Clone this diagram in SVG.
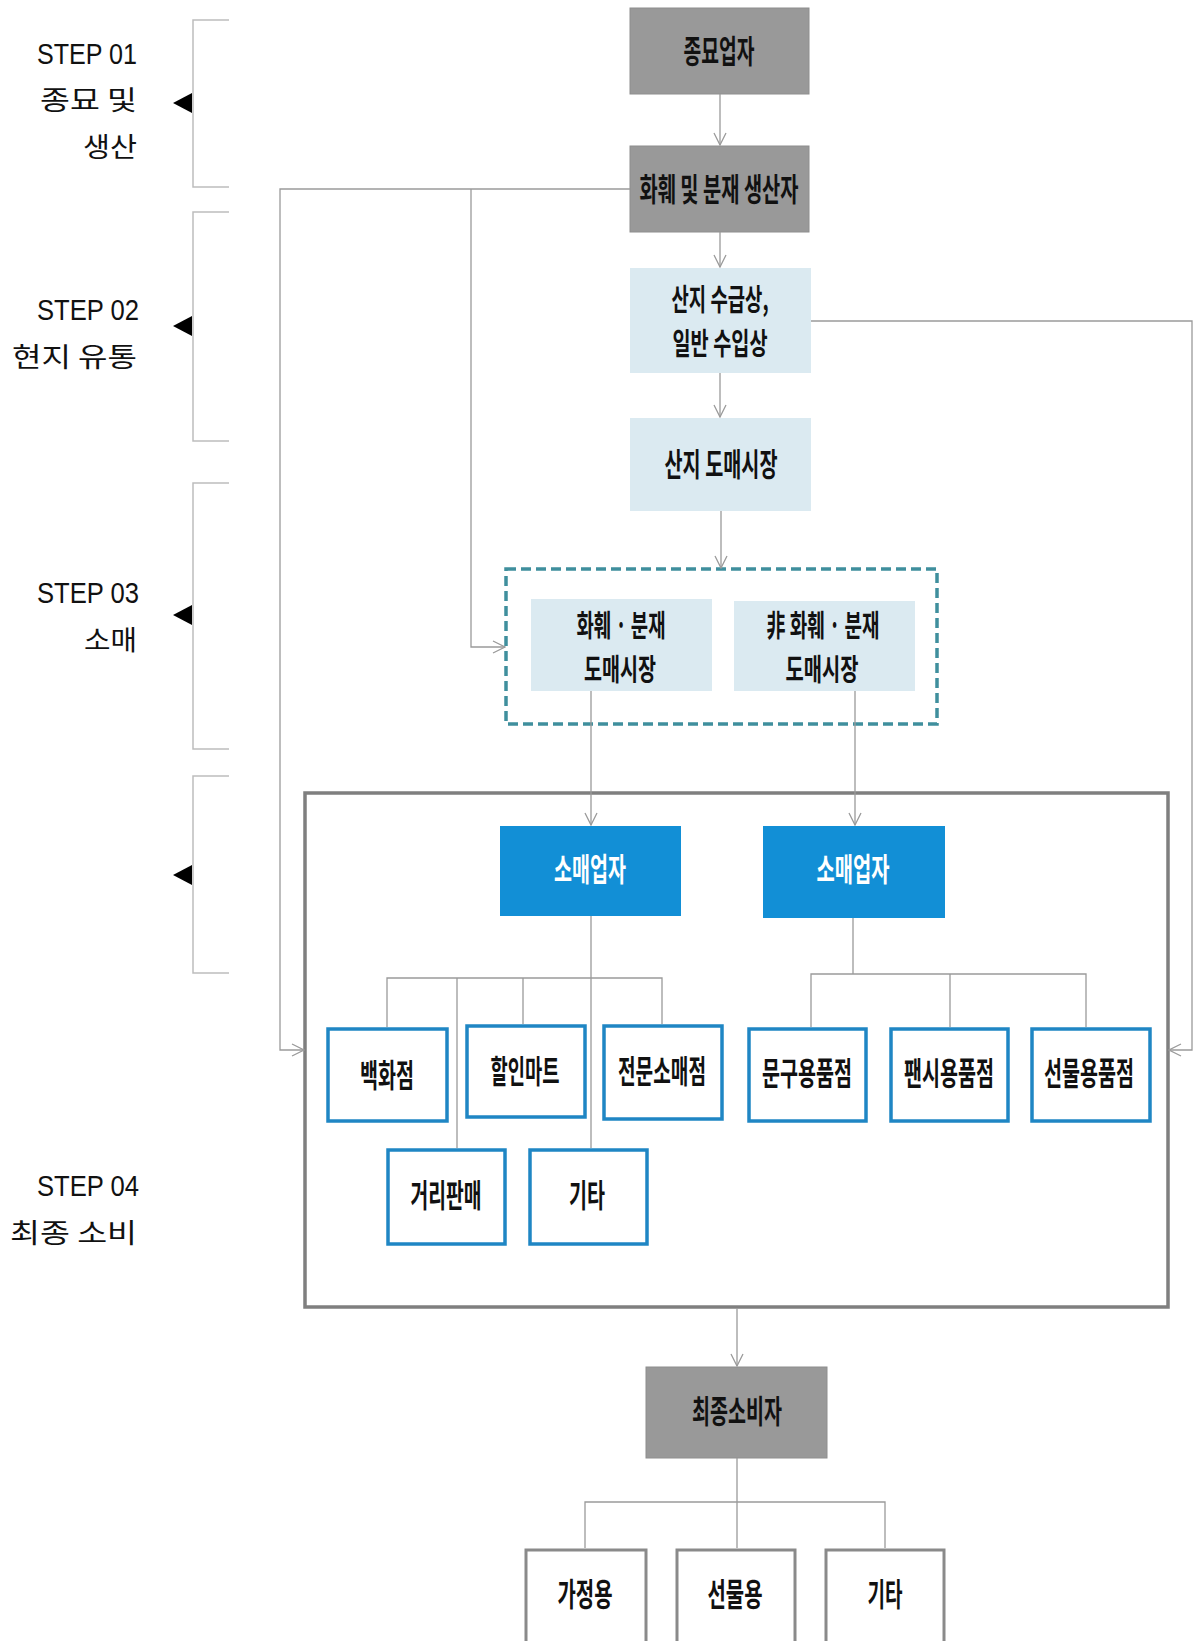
<svg xmlns="http://www.w3.org/2000/svg" width="1196" height="1641" viewBox="0 0 1196 1641">
<style>
.step{font-family:"Liberation Sans",sans-serif;font-size:29px;fill:#111;text-anchor:end}
.kl{font-family:"Noto Sans CJK KR",sans-serif;font-size:27px;fill:#111;text-anchor:end}
.nt{font-family:"Noto Sans CJK KR",sans-serif;font-size:32px;font-weight:700;fill:#111;text-anchor:middle}
.n2{font-size:30px}
.wt{fill:#fff}
.brk{fill:none;stroke:#bdbdbd;stroke-width:1.5}
.dark{fill:#999;stroke:#8e8e8e;stroke-width:1}
.light{fill:#dbeaf1}
.blue{fill:#128fd6}
.bb{fill:#fff;stroke:#1f86c4;stroke-width:3.5}
.gb{fill:#fff;stroke:#8a8a8a;stroke-width:3}
.con{fill:none;stroke:#9a9a9a;stroke-width:1.3}
</style>
<defs>
<marker id="ar" markerUnits="userSpaceOnUse" markerWidth="14" markerHeight="14" viewBox="0 0 14 14" refX="13" refY="7" orient="auto">
<path d="M1,1 L13,7 L1,13" fill="none" stroke="#9a9a9a" stroke-width="1.3"/>
</marker>
</defs>

<g id="step-labels">
<text class="step" x="137" y="64" textLength="100" lengthAdjust="spacingAndGlyphs">STEP 01</text>
<text class="kl" x="137" y="110" textLength="97" lengthAdjust="spacingAndGlyphs">종묘 및</text>
<text class="kl" x="137" y="157" textLength="54" lengthAdjust="spacingAndGlyphs">생산</text>
<text class="step" x="139" y="320" textLength="102" lengthAdjust="spacingAndGlyphs">STEP 02</text>
<text class="kl" x="137" y="367" textLength="125" lengthAdjust="spacingAndGlyphs">현지 유통</text>
<text class="step" x="139" y="603" textLength="102" lengthAdjust="spacingAndGlyphs">STEP 03</text>
<text class="kl" x="137" y="650" textLength="53" lengthAdjust="spacingAndGlyphs">소매</text>
<text class="step" x="139" y="1196" textLength="102" lengthAdjust="spacingAndGlyphs">STEP 04</text>
<text class="kl" x="137" y="1243" textLength="127" lengthAdjust="spacingAndGlyphs">최종 소비</text>
</g>

<g id="brackets">
<path class="brk" d="M229,20 H193 V187 H229"/>
<path d="M173,103 L192,93 L192,113 Z" fill="#000"/>
<path class="brk" d="M229,212 H193 V441 H229"/>
<path d="M173,326 L192,316 L192,336 Z" fill="#000"/>
<path class="brk" d="M229,483 H193 V749 H229"/>
<path d="M173,615 L192,605 L192,625 Z" fill="#000"/>
<path class="brk" d="M229,776 H193 V973 H229"/>
<path d="M173,875 L192,865 L192,885 Z" fill="#000"/>
</g>

<g id="n-jongmyo">
<rect class="dark" x="630" y="8" width="179" height="86"/>
<text class="nt" x="719" y="63" textLength="71" lengthAdjust="spacingAndGlyphs">종묘업자</text>
</g>
<g id="n-producer">
<rect class="dark" x="630" y="146" width="179" height="86"/>
<text class="nt" x="719" y="201" textLength="159" lengthAdjust="spacingAndGlyphs">화훼 및 분재 생산자</text>
</g>
<g id="n-supplier">
<rect class="light" x="630" y="268" width="181" height="105"/>
<text class="nt n2" x="720" y="310" textLength="97" lengthAdjust="spacingAndGlyphs">산지 수급상,</text>
<text class="nt n2" x="720" y="354" textLength="95" lengthAdjust="spacingAndGlyphs">일반 수입상</text>
</g>
<g id="n-local-wholesale">
<rect class="light" x="630" y="418" width="181" height="93"/>
<text class="nt" x="721" y="476" textLength="113" lengthAdjust="spacingAndGlyphs">산지 도매시장</text>
</g>

<g id="n-wholesale-group">
<rect x="506" y="569" width="431" height="155" fill="none" stroke="#3f8f9d" stroke-width="3.5" stroke-dasharray="10 5"/>
</g>
<g id="n-flower-wholesale">
<rect class="light" x="531" y="599" width="181" height="92"/>
<text class="nt n2" x="621" y="636" textLength="89" lengthAdjust="spacingAndGlyphs">화훼 · 분재</text>
<text class="nt n2" x="620" y="680" textLength="72" lengthAdjust="spacingAndGlyphs">도매시장</text>
</g>
<g id="n-nonflower-wholesale">
<rect class="light" x="734" y="601" width="181" height="90"/>
<text class="nt n2" x="823" y="636" textLength="113" lengthAdjust="spacingAndGlyphs">非 화훼 · 분재</text>
<text class="nt n2" x="822" y="680" textLength="73" lengthAdjust="spacingAndGlyphs">도매시장</text>
</g>

<g id="n-retail-group">
<rect x="305" y="793" width="863" height="514" fill="none" stroke="#7f7f7f" stroke-width="3.5"/>
</g>
<g id="n-retailer-left">
<rect class="blue" x="500" y="826" width="181" height="90"/>
<text class="nt wt" x="590" y="881" textLength="72" lengthAdjust="spacingAndGlyphs">소매업자</text>
</g>
<g id="n-retailer-right">
<rect class="blue" x="763" y="826" width="182" height="92"/>
<text class="nt wt" x="853" y="881" textLength="73" lengthAdjust="spacingAndGlyphs">소매업자</text>
</g>

<g id="n-dept">
<rect class="bb" x="328" y="1029" width="119" height="92"/>
<text class="nt" x="387" y="1087" textLength="54" lengthAdjust="spacingAndGlyphs">백화점</text>
</g>
<g id="n-discount">
<rect class="bb" x="467" y="1026" width="118" height="91"/>
<text class="nt" x="525" y="1083" textLength="69" lengthAdjust="spacingAndGlyphs">할인마트</text>
</g>
<g id="n-specialty">
<rect class="bb" x="604" y="1026" width="118" height="93"/>
<text class="nt" x="662" y="1083" textLength="88" lengthAdjust="spacingAndGlyphs">전문소매점</text>
</g>
<g id="n-stationery">
<rect class="bb" x="749" y="1029" width="117" height="92"/>
<text class="nt" x="807" y="1085" textLength="90" lengthAdjust="spacingAndGlyphs">문구용품점</text>
</g>
<g id="n-fancy">
<rect class="bb" x="891" y="1029" width="117" height="92"/>
<text class="nt" x="949" y="1085" textLength="90" lengthAdjust="spacingAndGlyphs">팬시용품점</text>
</g>
<g id="n-gift">
<rect class="bb" x="1032" y="1029" width="118" height="92"/>
<text class="nt" x="1089" y="1085" textLength="90" lengthAdjust="spacingAndGlyphs">선물용품점</text>
</g>
<g id="n-street">
<rect class="bb" x="388" y="1150" width="117" height="94"/>
<text class="nt" x="446" y="1207" textLength="71" lengthAdjust="spacingAndGlyphs">거리판매</text>
</g>
<g id="n-etc1">
<rect class="bb" x="530" y="1150" width="117" height="94"/>
<text class="nt" x="587" y="1207" textLength="36" lengthAdjust="spacingAndGlyphs">기타</text>
</g>

<g id="n-consumer">
<rect class="dark" x="646" y="1367" width="181" height="91"/>
<text class="nt" x="737" y="1423" textLength="90" lengthAdjust="spacingAndGlyphs">최종소비자</text>
</g>
<g id="n-home">
<rect class="gb" x="526" y="1550" width="120" height="94"/>
<text class="nt" x="585" y="1606" textLength="55" lengthAdjust="spacingAndGlyphs">가정용</text>
</g>
<g id="n-giftuse">
<rect class="gb" x="677" y="1550" width="118" height="94"/>
<text class="nt" x="735" y="1606" textLength="55" lengthAdjust="spacingAndGlyphs">선물용</text>
</g>
<g id="n-etc2">
<rect class="gb" x="826" y="1550" width="118" height="94"/>
<text class="nt" x="885" y="1606" textLength="35" lengthAdjust="spacingAndGlyphs">기타</text>
</g>

<g id="connectors">
<path class="con" d="M720,94 V145" marker-end="url(#ar)"/>
<path class="con" d="M720,232 V267" marker-end="url(#ar)"/>
<path class="con" d="M720,373 V417" marker-end="url(#ar)"/>
<path class="con" d="M721,511 V568" marker-end="url(#ar)"/>
<path class="con" d="M630,189 H280 V1050 H304" marker-end="url(#ar)"/>
<path class="con" d="M471,189 V647 H505" marker-end="url(#ar)"/>
<path class="con" d="M811,321 H1192 V1050 H1169" marker-end="url(#ar)"/>
<path class="con" d="M591,691 V825" marker-end="url(#ar)"/>
<path class="con" d="M855,691 V825" marker-end="url(#ar)"/>
<path class="con" d="M591,916 V1148"/>
<path class="con" d="M387,1027 V978 H662 V1024"/>
<path class="con" d="M457,978 V1148"/>
<path class="con" d="M523,978 V1024"/>
<path class="con" d="M853,918 V974"/>
<path class="con" d="M811,1027 V974 H1086 V1027"/>
<path class="con" d="M950,974 V1027"/>
<path class="con" d="M737,1308 V1366" marker-end="url(#ar)"/>
<path class="con" d="M737,1458 V1548"/>
<path class="con" d="M585,1548 V1502 H885 V1548"/>
</g>
</svg>
